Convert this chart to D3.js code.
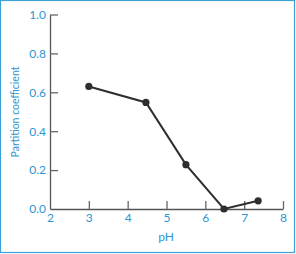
<!DOCTYPE html>
<html><head><meta charset="utf-8">
<script src="https://cdn.jsdelivr.net/npm/d3@7"></script>
<style>body{margin:0;background:#fff}svg{display:block}</style>
</head><body>
<svg id="c" width="296" height="254"></svg>
<script>
const pH = [3.0, 4.47, 5.5, 6.48, 7.36];
const partition = [0.63, 0.548, 0.228, 0.0, 0.042];
const xTicks = [2, 3, 4, 5, 6, 7, 8];
const yTicks = [0.0, 0.2, 0.4, 0.6, 0.8, 1.0];
const xLabel = "pH";
const yLabel = "Partition coefficient";

const blue = "#2b96d3";
const svg = d3.select("#c");
const font = "Lato, 'Open Sans', sans-serif";

svg.append("rect").attr("x",0.5).attr("y",0.5).attr("width",294).attr("height",252)
  .attr("fill","none").attr("stroke","#3da0d6").attr("stroke-width",1.2);

const x = d3.scaleLinear().domain([2,8]).range([50,283]);
const y = d3.scaleLinear().domain([0,1]).range([209,14.5]);

const xa = svg.append("g").attr("transform","translate(0,209)")
  .call(d3.axisBottom(x).tickValues(xTicks).tickFormat(d3.format("d")).tickSizeInner(-8).tickSizeOuter(0).tickPadding(4.5));
const ya = svg.append("g").attr("transform","translate(50,0)")
  .call(d3.axisLeft(y).tickValues(yTicks).tickFormat(d3.format(".1f")).tickSizeInner(-8).tickSizeOuter(0).tickPadding(12));
[xa,ya].forEach(a=>{
  a.select(".domain").attr("stroke","#555").attr("stroke-width",1.3);
  a.selectAll(".tick line").attr("stroke","#666").attr("stroke-width",1.3);
  a.selectAll(".tick text").attr("fill",blue).attr("font-family",font).attr("font-size",12);
});
ya.selectAll(".tick text").attr("dx",8);
xa.selectAll(".tick line").filter(d=>d===2).remove();
ya.selectAll(".tick line").filter(d=>d===0).remove();

svg.append("text").attr("x",166).attr("y",241).attr("text-anchor","middle")
  .attr("fill",blue).attr("font-family",font).attr("font-size",12).text(xLabel);
svg.append("text").attr("transform","translate(19,112) rotate(-90)").attr("text-anchor","middle")
  .attr("fill",blue).attr("font-family",font).attr("font-size",10.5).text(yLabel);

const data = pH.map((v,i)=>[v,partition[i]]);
svg.append("path").datum(data)
  .attr("d",d3.line().x(d=>x(d[0])).y(d=>y(d[1])))
  .attr("fill","none").attr("stroke","#2e2e2e").attr("stroke-width",2);
svg.selectAll("circle.pt").data(data).enter().append("circle")
  .attr("cx",d=>x(d[0])).attr("cy",d=>y(d[1])).attr("r",3.6).attr("fill","#2e2e2e");
</script>
</body></html>
